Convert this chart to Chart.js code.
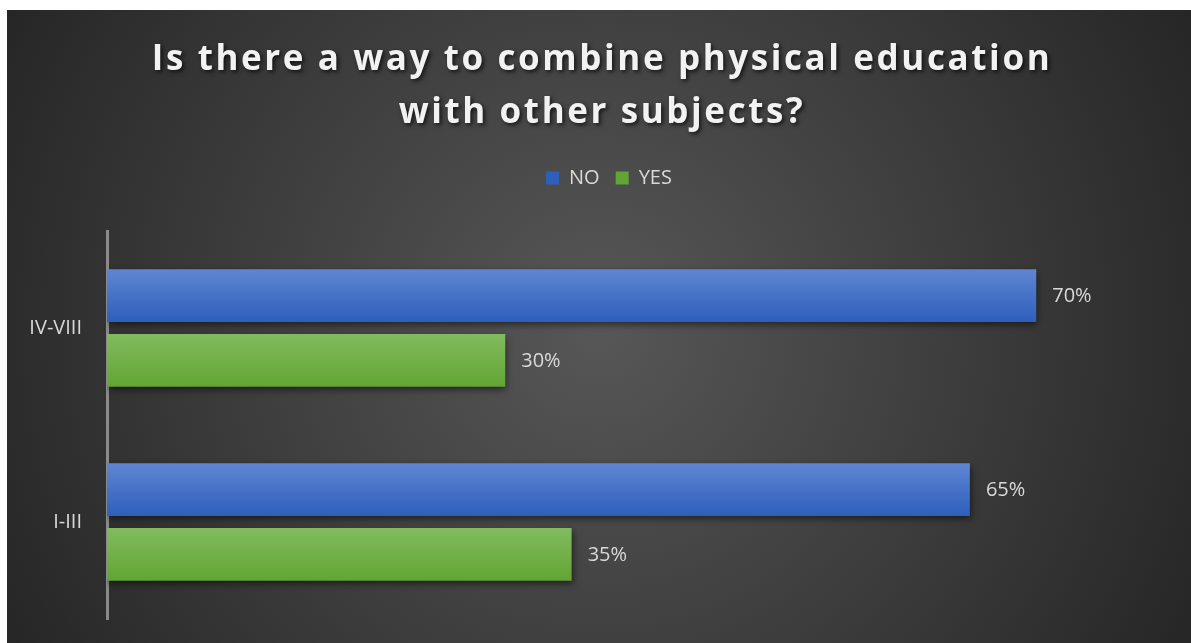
<!DOCTYPE html>
<html>
<head>
<meta charset="utf-8">
<script src="https://cdn.jsdelivr.net/npm/chart.js@4"></script>
<style>
  html, body { margin: 0; padding: 0; background: #ffffff; }
  #chart {
    position: absolute;
    left: 7px;
    top: 10px;
    width: 1184px;
    height: 633px;
    background: radial-gradient(circle farthest-corner at 50% 50%, #575757 0%, #262626 100%);
  }
</style>
</head>
<body>
<div id="chart"><canvas id="myChart"></canvas></div>
<script>
const titleLines = ['Is there a way to combine physical education', 'with other subjects?'];
const grades = ['IV-VIII', 'I-III'];
const noValues = [0.70, 0.65];
const yesValues = [0.30, 0.35];
const seriesNames = ['NO', 'YES'];

const textColor = '#d9d9d9';
const catPct = 0.667;
const barPct = 0.815;

// top/bottom colours of each series
const shades = [
    ['#5f86d3', '#2d5fbb'],
    ['#82bb5e', '#62a534']
];

// vertical gradient for each bar, based on the category scale
function barFill(ctx) {
    const chart = ctx.chart;
    const ds = ctx.datasetIndex;
    const y = chart.scales.y;
    if (!chart.chartArea || !y || ctx.dataIndex === undefined) return shades[ds][1];
    const band = chart.chartArea.height / grades.length;
    const slot = band * catPct / 2;
    const center = y.getPixelForValue(ctx.dataIndex);
    const top = center - slot + slot * ds + slot * (1 - barPct) / 2;
    const g = chart.ctx.createLinearGradient(0, top, 0, top + slot * barPct);
    g.addColorStop(0, shades[ds][0]);
    g.addColorStop(1, shades[ds][1]);
    return g;
}

// drop shadow under the bars
const barShadow = {
    id: 'barShadow',
    beforeDatasetsDraw(chart) {
        const c = chart.ctx;
        c.save();
        c.shadowColor = 'rgba(0,0,0,0.55)';
        c.shadowBlur = 7;
        c.shadowOffsetX = 1;
        c.shadowOffsetY = 3;
    },
    afterDatasetsDraw(chart) {
        chart.ctx.restore();
    }
};

// percentage labels at the end of the bars
const valueLabels = {
    id: 'valueLabels',
    afterDatasetsDraw(chart) {
        const c = chart.ctx;
        c.save();
        c.font = '20px "Open Sans"';
        c.fillStyle = textColor;
        c.textAlign = 'left';
        c.textBaseline = 'middle';
        chart.data.datasets.forEach((ds, i) => {
            chart.getDatasetMeta(i).data.forEach((bar, j) => {
                c.fillText(Math.round(ds.data[j] * 100) + '%', bar.x + 16, bar.y + 1);
            });
        });
        c.restore();
    }
};

// spaced-out title with a soft shadow
const bigTitle = {
    id: 'bigTitle',
    afterDraw(chart) {
        const c = chart.ctx;
        c.save();
        c.font = 'bold 35px "Open Sans"';
        c.letterSpacing = '2.6px';
        c.fillStyle = '#f2f2f2';
        c.textAlign = 'center';
        c.textBaseline = 'alphabetic';
        c.shadowColor = 'rgba(0,0,0,0.7)';
        c.shadowBlur = 4;
        c.shadowOffsetX = 2;
        c.shadowOffsetY = 2;
        const cx = chart.width / 2 + 3;
        titleLines.forEach((line, i) => c.fillText(line, cx, 60 + i * 53));
        c.restore();
    }
};

// legend sits a little right of the canvas centre
const legendNudge = {
    id: 'legendNudge',
    afterLayout(chart) {
        chart.legend.left += 21;
        chart.legend.right += 21;
    }
};

new Chart(document.getElementById('myChart').getContext('2d'), {
    type: 'bar',
    data: {
        labels: grades,
        datasets: [
            { label: seriesNames[0], data: noValues, backgroundColor: barFill },
            { label: seriesNames[1], data: yesValues, backgroundColor: barFill }
        ]
    },
    options: {
        indexAxis: 'y',
        responsive: true,
        maintainAspectRatio: false,
        animation: false,
        categoryPercentage: catPct,
        barPercentage: barPct,
        layout: { padding: { top: 142, right: 22, bottom: 24, left: 0 } },
        scales: {
            x: {
                position: 'top',
                min: 0,
                max: 0.8,
                ticks: { display: false },
                grid: { display: false, drawTicks: false },
                border: { display: false },
                // empty band between the legend and the bars
                afterFit: s => { s.height = 33; }
            },
            y: {
                grid: { display: false, drawTicks: false },
                border: { display: true, color: '#8a8a8a', width: 3 },
                ticks: { color: textColor, font: { family: 'Open Sans', size: 20 }, padding: 25 },
                afterFit: s => {
                    s.width = 100;
                    s.paddingTop = 0;
                    s.paddingBottom = 0;
                }
            }
        },
        plugins: {
            legend: {
                position: 'top',
                labels: {
                    color: textColor,
                    font: { family: 'Open Sans', size: 20 },
                    boxWidth: 13,
                    boxHeight: 13,
                    padding: 16,
                    generateLabels: chart => chart.data.datasets.map((ds, i) => ({
                        text: ds.label,
                        fillStyle: shades[i][1],
                        strokeStyle: shades[i][1],
                        lineWidth: 0,
                        fontColor: textColor,
                        datasetIndex: i
                    }))
                }
            },
            tooltip: { enabled: false }
        }
    },
    plugins: [barShadow, valueLabels, bigTitle, legendNudge]
});
</script>
</body>
</html>
